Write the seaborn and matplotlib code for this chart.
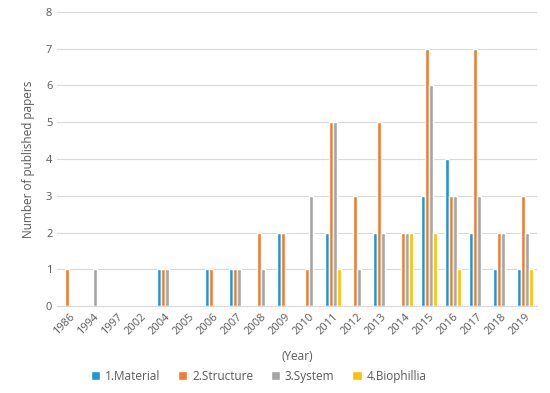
import numpy as np
import pandas as pd
import matplotlib
matplotlib.use("Agg")
import matplotlib.pyplot as plt
import seaborn as sns

# ---- data ----
years = ["1986", "1994", "1997", "2002", "2004", "2005", "2006", "2007", "2008", "2009",
         "2010", "2011", "2012", "2013", "2014", "2015", "2016", "2017", "2018", "2019"]
material = [0, 0, 0, 0, 1, 0, 1, 1, 0, 2, 0, 2, 0, 2, 0, 3, 4, 2, 1, 1]
structure = [1, 0, 0, 0, 1, 0, 1, 1, 2, 2, 1, 5, 3, 5, 2, 7, 3, 7, 2, 3]
system = [0, 1, 0, 0, 1, 0, 0, 1, 1, 0, 3, 5, 1, 2, 2, 6, 3, 3, 2, 2]
biophillia = [0, 0, 0, 0, 0, 0, 0, 0, 0, 0, 0, 1, 0, 0, 2, 2, 1, 0, 0, 1]

series = ["1.Material", "2.Structure", "3.System", "4.Biophillia"]
colors = ["#1E96D6", "#ED7D31", "#A5A5A5", "#FFC000"]

df = pd.DataFrame({
    "Year": years * 4,
    "Category": np.repeat(series, len(years)),
    "Count": material + structure + system + biophillia,
})

sns.set_style("white")
plt.rcParams["font.family"] = ["Open Sans", "DejaVu Sans"]
text_col = "#595959"

fig = plt.figure(figsize=(5.5, 3.93), dpi=100)
ax = fig.add_axes([0.104, 0.221, 0.872, 0.749])

sns.barplot(data=df, x="Year", y="Count", hue="Category", palette=colors,
            width=0.68, gap=0.0, saturation=1, ax=ax, legend=True)

ax.set_ylim(0, 8)
ax.set_yticks(range(0, 9))
ax.set_xlim(-0.5, len(years) - 0.5)
ax.yaxis.grid(True, color="#D9D9D9", linewidth=0.8)
ax.set_axisbelow(True)
for s in ["top", "right", "left"]:
    ax.spines[s].set_visible(False)
ax.spines["bottom"].set_color("#D9D9D9")

ax.tick_params(axis="both", length=0, labelsize=8, colors=text_col)
ax.tick_params(axis="x", pad=4)
plt.setp(ax.get_xticklabels(), rotation=45, ha="right", rotation_mode="anchor")
ax.set_ylabel("Number of published papers", fontsize=8.5, color=text_col, labelpad=8)
ax.set_xlabel("(Year)", fontsize=8.5, color=text_col, labelpad=9)

handles, labels = ax.get_legend_handles_labels()
ax.get_legend().remove()
fig.legend(handles, labels, loc="center", bbox_to_anchor=(0.47, 0.043),
           ncol=4, frameon=False, fontsize=8.5, handlelength=0.8, handleheight=0.8,
           columnspacing=1.5, handletextpad=0.4, labelcolor=text_col)

fig.savefig("out.png", dpi=100)
